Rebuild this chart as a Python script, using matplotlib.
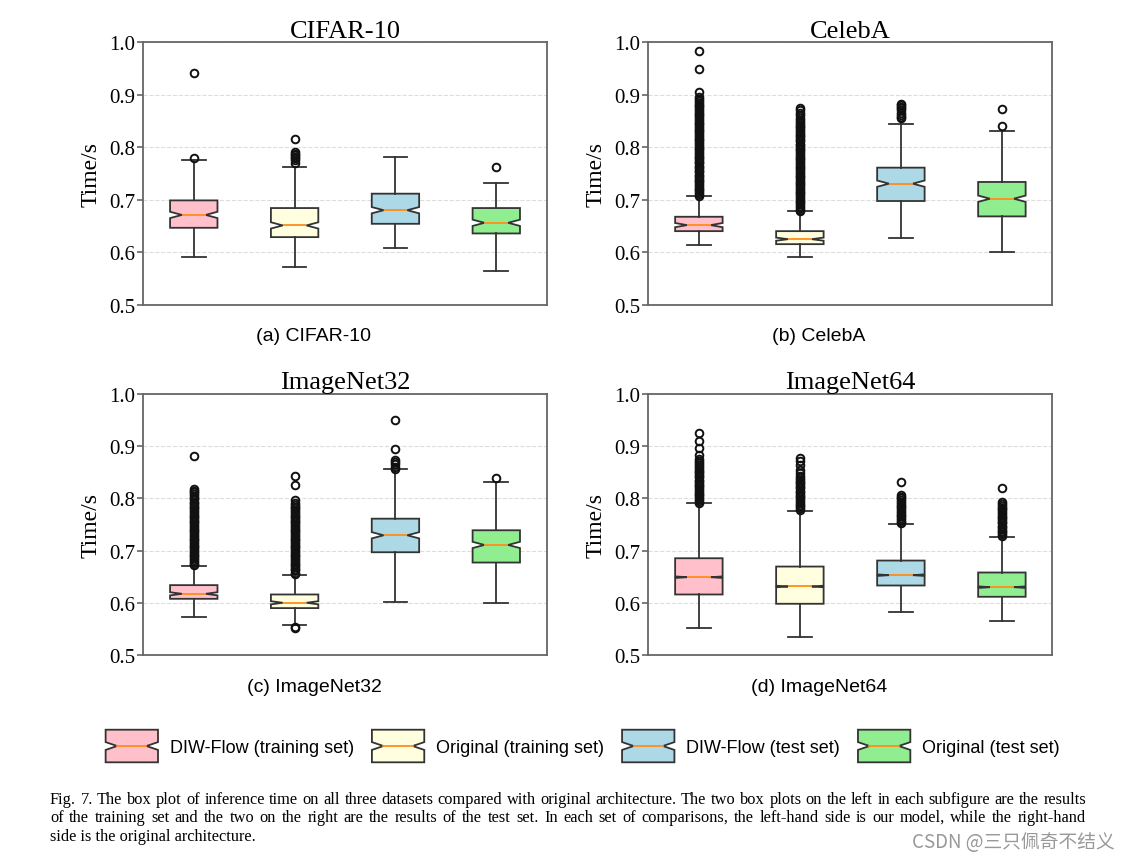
import matplotlib
matplotlib.use("Agg")
import matplotlib.pyplot as plt
from matplotlib.patches import Patch, Polygon
from matplotlib.lines import Line2D
from matplotlib.legend_handler import HandlerBase

# ---------------- data ----------------
titles = ["CIFAR-10", "CelebA", "ImageNet32", "ImageNet64"]
subcaptions = ["(a) CIFAR-10", "(b) CelebA", "(c) ImageNet32", "(d) ImageNet64"]
series_labels = ["DIW-Flow (training set)", "Original (training set)",
                 "DIW-Flow (test set)", "Original (test set)"]
box_colors = ["pink", "lightyellow", "lightblue", "lightgreen"]
yticks = [0.5, 0.6, 0.7, 0.8, 0.9, 1.0]

# per panel: lists over the 4 boxes
cifar_med = [0.671, 0.651, 0.680, 0.656]
cifar_q1 = [0.6465, 0.6287, 0.6541, 0.6357]
cifar_q3 = [0.6987, 0.6841, 0.7115, 0.6841]
cifar_lo = [0.5904, 0.5726, 0.6089, 0.5650]
cifar_hi = [0.7758, 0.7631, 0.7822, 0.7318]
cifar_ci = [0.006, 0.006, 0.006, 0.006]
cifar_fliers = [
    [0.7796, 0.9414],
    [0.770, 0.775, 0.779, 0.782, 0.785, 0.788, 0.791, 0.8166],
    [],
    [0.7624],
]

celeba_med = [0.6516, 0.6248, 0.7306, 0.7019]
celeba_q1 = [0.6401, 0.6153, 0.6975, 0.6682]
celeba_q3 = [0.6675, 0.6401, 0.7611, 0.7338]
celeba_lo = [0.6134, 0.5904, 0.6268, 0.6000]
celeba_hi = [0.7076, 0.6777, 0.8446, 0.8312]
celeba_ci = [0.004, 0.003, 0.006, 0.006]
celeba_fliers = [
    [0.708, 0.711, 0.714, 0.718, 0.721, 0.725, 0.728, 0.731, 0.735, 0.738, 0.742,
     0.745, 0.748, 0.752, 0.755, 0.759, 0.762, 0.765, 0.769, 0.772, 0.776, 0.779,
     0.782, 0.786, 0.789, 0.793, 0.796, 0.799, 0.803, 0.806, 0.810, 0.813, 0.816,
     0.820, 0.823, 0.827, 0.830, 0.833, 0.837, 0.840, 0.844, 0.847, 0.850, 0.854,
     0.857, 0.861, 0.864, 0.867, 0.871, 0.874, 0.878, 0.881, 0.884, 0.888, 0.891,
     0.895, 0.9057, 0.9484, 0.9841],
    [0.678, 0.681, 0.685, 0.688, 0.692, 0.695, 0.698, 0.702, 0.705, 0.709, 0.712,
     0.715, 0.719, 0.722, 0.726, 0.729, 0.732, 0.736, 0.739, 0.743, 0.746, 0.749,
     0.753, 0.756, 0.760, 0.763, 0.766, 0.770, 0.773, 0.777, 0.780, 0.783, 0.787,
     0.790, 0.794, 0.797, 0.800, 0.804, 0.807, 0.811, 0.814, 0.817, 0.821, 0.824,
     0.828, 0.831, 0.834, 0.838, 0.841, 0.845, 0.848, 0.852, 0.856, 0.862, 0.866,
     0.870, 0.875],
    [0.855, 0.858, 0.862, 0.866, 0.870, 0.874, 0.877, 0.880, 0.882],
    [0.840, 0.8726],
]

in32_med = [0.6172, 0.6000, 0.7293, 0.7108]
in32_q1 = [0.6076, 0.5898, 0.6968, 0.6771]
in32_q3 = [0.6338, 0.6159, 0.7611, 0.7389]
in32_lo = [0.5720, 0.5580, 0.6013, 0.5987]
in32_hi = [0.6713, 0.6535, 0.8554, 0.8318]
in32_ci = [0.003, 0.003, 0.006, 0.006]
in32_fliers = [
    [0.672, 0.675, 0.679, 0.682, 0.686, 0.689, 0.692, 0.696, 0.699, 0.703, 0.706,
     0.709, 0.713, 0.716, 0.720, 0.723, 0.726, 0.730, 0.733, 0.737, 0.740, 0.743,
     0.747, 0.750, 0.754, 0.757, 0.760, 0.764, 0.767, 0.771, 0.774, 0.777, 0.781,
     0.784, 0.788, 0.791, 0.794, 0.798, 0.801, 0.805, 0.808, 0.812, 0.815, 0.818,
     0.881],
    [0.551, 0.553, 0.655, 0.658, 0.662, 0.665, 0.669, 0.672, 0.675, 0.679, 0.682,
     0.686, 0.689, 0.692, 0.696, 0.699, 0.703, 0.706, 0.709, 0.713, 0.716, 0.720,
     0.723, 0.726, 0.730, 0.733, 0.737, 0.740, 0.743, 0.747, 0.750, 0.754, 0.757,
     0.760, 0.764, 0.767, 0.771, 0.774, 0.777, 0.781, 0.784, 0.788, 0.792, 0.797,
     0.826, 0.842],
    [0.857, 0.861, 0.865, 0.869, 0.873, 0.894, 0.950],
    [0.8395],
]

in64_med = [0.6490, 0.6312, 0.6529, 0.6299]
in64_q1 = [0.6159, 0.5981, 0.6331, 0.6115]
in64_q3 = [0.6853, 0.6694, 0.6809, 0.6580]
in64_lo = [0.5516, 0.5344, 0.5822, 0.5650]
in64_hi = [0.7904, 0.7764, 0.7503, 0.7261]
in64_ci = [0.0015, 0.0015, 0.0015, 0.0015]
in64_fliers = [
    [0.792, 0.795, 0.799, 0.802, 0.806, 0.809, 0.812, 0.816, 0.819, 0.823, 0.826,
     0.829, 0.833, 0.836, 0.840, 0.843, 0.846, 0.850, 0.853, 0.857, 0.860, 0.864,
     0.867, 0.871, 0.876, 0.884, 0.896, 0.910, 0.926],
    [0.778, 0.781, 0.785, 0.788, 0.792, 0.795, 0.798, 0.802, 0.805, 0.809, 0.812,
     0.815, 0.819, 0.822, 0.826, 0.829, 0.832, 0.836, 0.839, 0.843, 0.848, 0.854,
     0.864, 0.871, 0.878],
    [0.752, 0.755, 0.759, 0.762, 0.766, 0.769, 0.772, 0.776, 0.779, 0.783, 0.786,
     0.789, 0.793, 0.796, 0.800, 0.803, 0.806, 0.831],
    [0.728, 0.731, 0.735, 0.738, 0.742, 0.745, 0.748, 0.752, 0.755, 0.759, 0.762,
     0.765, 0.769, 0.772, 0.776, 0.779, 0.782, 0.786, 0.789, 0.793, 0.819],
]

caption_lines = [
    "Fig. 7.  The box plot of inference time on all three datasets compared with original architecture. The two box plots on the left in each subfigure are the results",
    "of the training set and the two on the right are the results of the test set. In each set of comparisons, the left-hand side is our model, while the right-hand",
    "side is the original architecture.",
]
caption_justify = [True, True, False]
watermark = "CSDN @三只佩奇不结义"

panels = [
    (cifar_med, cifar_q1, cifar_q3, cifar_lo, cifar_hi, cifar_ci, cifar_fliers),
    (celeba_med, celeba_q1, celeba_q3, celeba_lo, celeba_hi, celeba_ci, celeba_fliers),
    (in32_med, in32_q1, in32_q3, in32_lo, in32_hi, in32_ci, in32_fliers),
    (in64_med, in64_q1, in64_q3, in64_lo, in64_hi, in64_ci, in64_fliers),
]

# ---------------- style ----------------
SERIF = ["Liberation Serif", "DejaVu Serif"]
SANS = ["Liberation Sans", "DejaVu Sans"]
EDGE = "#333333"
SPINE = "#666666"
MED = "#ff8c1a"

W, H = 1127, 862
fig = plt.figure(figsize=(W / 100, H / 100), dpi=100)

rects = [
    [0.1272, 0.6454, 0.3579, 0.3044],
    [0.5753, 0.6454, 0.3585, 0.3044],
    [0.1272, 0.2390, 0.3579, 0.3028],
    [0.5753, 0.2390, 0.3585, 0.3028],
]
sub_pos = [(0.2786, 0.6102), (0.7267, 0.6102), (0.2786, 0.2030), (0.7267, 0.2030)]

for i, (rect, pdata) in enumerate(zip(rects, panels)):
    ax = fig.add_axes(rect)
    med, q1, q3, lo, hi, ci, fl = pdata
    stats = []
    for j in range(4):
        stats.append(dict(med=med[j], q1=q1[j], q3=q3[j], whislo=lo[j], whishi=hi[j],
                          cilo=med[j] - ci[j], cihi=med[j] + ci[j], fliers=fl[j]))
    bp = ax.bxp(stats, positions=[1, 2, 3, 4], widths=0.47, shownotches=True,
                patch_artist=True,
                boxprops=dict(edgecolor=EDGE, linewidth=1.3),
                whiskerprops=dict(color=EDGE, linewidth=1.3),
                capprops=dict(color=EDGE, linewidth=1.3),
                medianprops=dict(color=MED, linewidth=1.3),
                flierprops=dict(marker="o", markerfacecolor="none",
                                markeredgecolor="#111111", markersize=5.5,
                                markeredgewidth=1.4))
    for patch, c in zip(bp["boxes"], box_colors):
        patch.set_facecolor(c)
    ax.set_xlim(0.5, 4.5)
    ax.set_ylim(0.5, 1.0)
    ax.set_xticks([])
    ax.set_yticks(yticks)
    ax.set_yticklabels([f"{t:.1f}" for t in yticks], fontfamily=SERIF, fontsize=15)
    ax.tick_params(axis="y", direction="out", length=4, width=1.2, color=SPINE, pad=2)
    ax.yaxis.grid(True, linestyle="--", color="#dddddd", linewidth=0.8)
    ax.set_axisbelow(True)
    for sp in ax.spines.values():
        sp.set_color(SPINE)
        sp.set_linewidth(1.3)
    ax.set_title(titles[i], fontfamily=SERIF, fontsize=19, pad=4)
    ax.set_ylabel("Time/s", fontfamily=SERIF, fontsize=17, labelpad=5)
    fig.text(sub_pos[i][0], sub_pos[i][1], subcaptions[i], fontfamily=SANS,
             fontsize=14, ha="center", va="center")


class HandlerNotchBox(HandlerBase):
    def create_artists(self, legend, orig_handle, xdescent, ydescent, width, height,
                       fontsize, trans):
        x0, y0 = -xdescent, -ydescent
        x1, y1 = x0 + width, y0 + height
        ym = (y0 + y1) / 2
        d = 0.22 * width
        n = 0.12 * height
        pts = [(x0, y0), (x1, y0), (x1, ym - n), (x1 - d, ym), (x1, ym + n),
               (x1, y1), (x0, y1), (x0, ym + n), (x0 + d, ym), (x0, ym - n)]
        poly = Polygon(pts, closed=True, facecolor=orig_handle.get_facecolor(),
                       edgecolor=EDGE, linewidth=1.3, transform=trans)
        line = Line2D([x0 + d, x1 - d], [ym, ym], color=MED, linewidth=1.3,
                      transform=trans)
        return [poly, line]


handles = [Patch(facecolor=c, edgecolor=EDGE) for c in box_colors]
fig.legend(handles, series_labels, loc="center", bbox_to_anchor=(0.517, 0.1334),
           ncol=4, frameon=False, handler_map={Patch: HandlerNotchBox()},
           prop=dict(family=SANS, size=13), handlelength=2.9, handleheight=2.4,
           handletextpad=0.65, columnspacing=1.0)

# justified caption
renderer = fig.canvas.get_renderer()
cap_left, cap_right = 50, 1086
cap_y = [800, 818, 837]
cap_size = 11.8
for line, yy, just in zip(caption_lines, cap_y, caption_justify):
    yf = 1 - yy / H
    if not just:
        fig.text(cap_left / W, yf, line, fontfamily=SERIF, fontsize=cap_size,
                 ha="left", va="center")
        continue
    words = line.split()
    widths = []
    for w in words:
        t = fig.text(0, 0, w, fontfamily=SERIF, fontsize=cap_size)
        widths.append(t.get_window_extent(renderer).width)
        t.remove()
    gap = (cap_right - cap_left - sum(widths)) / (len(words) - 1)
    x = cap_left
    for w, wd in zip(words, widths):
        fig.text(x / W, yf, w, fontfamily=SERIF, fontsize=cap_size,
                 ha="left", va="center")
        x += wd + gap

fig.text(0.989, 1 - 843 / H, watermark, fontfamily=["Noto Sans CJK SC", "DejaVu Sans"],
         fontsize=13.5, color="#999999", ha="right", va="center")

fig.savefig("out.png", dpi=100)
